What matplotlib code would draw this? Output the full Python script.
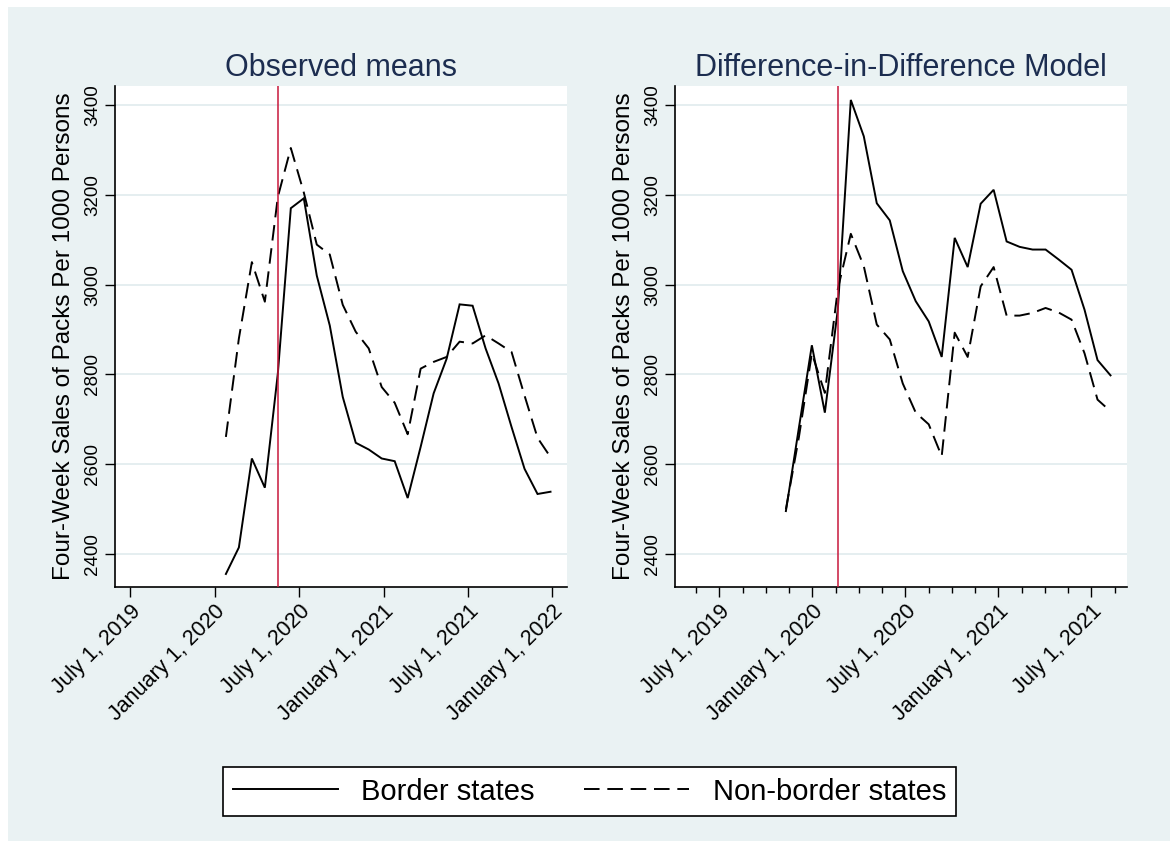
import matplotlib
matplotlib.use("Agg")
import matplotlib.pyplot as plt
from matplotlib.lines import Line2D
from matplotlib.patches import Rectangle
import numpy as np

plt.rcParams["font.family"] = ["Liberation Sans", "DejaVu Sans"]

# ---------------- data (four-week periods) ----------------
periods = np.arange(26)
policy_period = 4

border_obs = [2356, 2415, 2613, 2548, 2802, 3170, 3192, 3020, 2909, 2750, 2648, 2633, 2613,
              2607, 2525, 2639, 2758, 2835, 2956, 2953, 2858, 2780, 2683, 2590, 2534, 2539]
nonborder_obs = [2661, 2880, 3050, 2962, 3195, 3304, 3205, 3089, 3067, 2955, 2895, 2858, 2772,
                 2737, 2667, 2813, 2828, 2839, 2873, 2869, 2887, 2869, 2850, 2753, 2659, 2616]

border_did = [2496, 2681, 2865, 2715, 2945, 3411, 3330, 3181, 3143, 3030, 2963, 2918, 2839,
              3104, 3039, 3180, 3211, 3096, 3084, 3078, 3078, 3056, 3033, 2944, 2832, 2798]
nonborder_did = [2500, 2660, 2847, 2759, 2990, 3113, 3041, 2911, 2878, 2780, 2715, 2689, 2618,
                 2893, 2839, 2996, 3039, 2931, 2931, 2937, 2948, 2938, 2922, 2847, 2744, 2718]

left_tick_labels = ["July 1, 2019", "January 1, 2020", "July 1, 2020",
                    "January 1, 2021", "July 1, 2021", "January 1, 2022"]
right_tick_labels = ["July 1, 2019", "January 1, 2020", "July 1, 2020",
                     "January 1, 2021", "July 1, 2021"]
yticks = [2400, 2600, 2800, 3000, 3200, 3400]

titles = ["Observed means", "Difference-in-Difference Model"]
ylabel = "Four-Week Sales of Packs Per 1000 Persons"
legend_labels = ["Border states", "Non-border states"]

# ---------------- style ----------------
W, H = 1170, 841
BG = "#EAF2F3"
GRID = "#E3EDEF"
NAVY = "#1C2D50"
RED = "#C8193C"
LW = 1.4
DASH = (0, (8, 4))

fig = plt.figure(figsize=(W / 100, H / 100), dpi=100, facecolor="white")
fig.add_artist(Rectangle((8 / W, 0), 1 - 8 / W, (H - 7) / H, transform=fig.transFigure,
                         facecolor=BG, edgecolor="none", zorder=-10))

ax_l = fig.add_axes([115 / W, (H - 587) / H, 452 / W, 501 / H])
ax_r = fig.add_axes([675 / W, (H - 587) / H, 452 / W, 501 / H])

left_ticks = -7.36 + 6.5 * np.arange(len(left_tick_labels))
right_ticks = -5.12 + 7.163 * np.arange(len(right_tick_labels))
right_minor = [-5.12 + 1.791 * k for k in range(-1, 18) if k % 4 != 0]

panels = [
    (ax_l, border_obs, nonborder_obs, left_ticks, left_tick_labels, None, titles[0]),
    (ax_r, border_did, nonborder_did, right_ticks, right_tick_labels, right_minor, titles[1]),
]

for ax, b, nb, xt, xtl, xminor, title in panels:
    ax.set_facecolor("white")
    ax.plot(periods, b, color="black", lw=LW, solid_joinstyle="miter", zorder=3)
    ax.plot(periods, nb, color="black", lw=LW, linestyle=DASH, zorder=3)
    ax.axvline(policy_period, color=RED, lw=1.1, zorder=4)

    ax.set_xlim(-8.54, 26.27)
    ax.set_ylim(2327, 3442)
    ax.set_yticks(yticks)
    ax.set_yticklabels([str(v) for v in yticks])
    ax.yaxis.grid(True, color=GRID, lw=1.3)
    ax.set_axisbelow(True)

    ax.set_xticks(xt)
    ax.set_xticklabels(xtl)
    if xminor is not None:
        ax.set_xticks(xminor, minor=True)
        ax.tick_params(axis="x", which="minor", length=4, width=1, color="black")

    for s in ["top", "right"]:
        ax.spines[s].set_visible(False)
    for s in ["left", "bottom"]:
        ax.spines[s].set_linewidth(1.2)
        ax.spines[s].set_color("black")

    ax.tick_params(axis="y", which="major", length=7, width=1, pad=3, labelsize=13.5)
    ax.tick_params(axis="x", which="major", length=7, width=1, pad=3, labelsize=15.5)
    for lab in ax.get_yticklabels():
        lab.set_rotation(90)
        lab.set_va("center")
        lab.set_ha("right")
    for lab in ax.get_xticklabels():
        lab.set_rotation(45)
        lab.set_rotation_mode("anchor")
        lab.set_ha("right")
        lab.set_va("top")

    ax.set_ylabel(ylabel, fontsize=17.5)
    ax.yaxis.set_label_coords(-0.088, 0.5)
    ax.set_title(title, fontsize=22, color=NAVY, pad=7)

handles = [Line2D([], [], color="black", lw=LW),
           Line2D([], [], color="black", lw=LW, linestyle=DASH)]
leg = fig.legend(handles, legend_labels, ncol=2, loc="center",
                 bbox_to_anchor=(589.5 / W, 1 - 791.7 / H), fontsize=21,
                 frameon=True, fancybox=False, edgecolor="black", facecolor="white",
                 framealpha=1, handlelength=3.6, handletextpad=0.8, columnspacing=1.7,
                 borderpad=0.35)
leg.get_frame().set_linewidth(1.2)

fig.savefig("out.png", dpi=100, facecolor="white")
